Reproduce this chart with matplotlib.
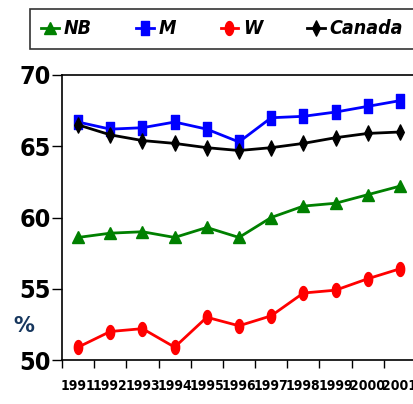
import numpy as np
import matplotlib
matplotlib.use('Agg')
import matplotlib.pyplot as plt
from matplotlib import font_manager
from matplotlib.path import Path
from matplotlib.ticker import FixedLocator, NullFormatter

# Participation rate (%) by year
years = ['1991', '1992', '1993', '1994', '1995', '1996',
         '1997', '1998', '1999', '2000', '2001']
nb     = [58.6, 58.9, 59.0, 58.6, 59.3, 58.6, 60.0, 60.8, 61.0, 61.6, 62.2]
men    = [66.7, 66.2, 66.3, 66.7, 66.2, 65.3, 67.0, 67.1, 67.4, 67.8, 68.2]
women  = [50.9, 52.0, 52.2, 50.9, 53.0, 52.4, 53.1, 54.7, 54.9, 55.7, 56.4]
canada = [66.5, 65.8, 65.4, 65.2, 64.9, 64.7, 64.9, 65.2, 65.6, 65.9, 66.0]

labels = ['NB', 'M', 'W', 'Canada']

# look for a condensed face if one is installed
condensed = [f for f in font_manager.fontManager.ttflist
             if ('Narrow' in f.name or 'Condensed' in f.name or f.stretch in ('condensed', 'semi-condensed', 600, 500))]
if any(f.name == 'Liberation Sans Narrow' for f in condensed):
    NARROW, STRETCH = 'Liberation Sans Narrow', 'normal'
elif any(f.name == 'DejaVu Sans' for f in condensed):
    NARROW, STRETCH = 'DejaVu Sans', 'condensed'
else:
    NARROW, STRETCH = 'Liberation Sans', 'normal'

# tall, narrow marker shapes
tall_rect = Path([(-0.62, -1), (0.62, -1), (0.62, 1), (-0.62, 1), (-0.62, -1)],
                 [Path.MOVETO, Path.LINETO, Path.LINETO, Path.LINETO, Path.CLOSEPOLY])
t = np.linspace(0, 2 * np.pi, 40)
tall_oval = Path(np.column_stack([0.6 * np.cos(t), np.sin(t)]))
thin_diamond = Path([(0, -1), (0.5, 0), (0, 1), (-0.5, 0), (0, -1)],
                    [Path.MOVETO, Path.LINETO, Path.LINETO, Path.LINETO, Path.CLOSEPOLY])

fig = plt.figure(figsize=(4.13, 4.04), dpi=100)
ax = fig.add_axes([62 / 413, 44 / 404, 354 / 413, 285 / 404])

x = np.arange(len(years))
lw = 2.0
ax.plot(x, nb, color='#008000', lw=lw, marker='^', ms=9, label=labels[0])
ax.plot(x, men, color='#0000FF', lw=lw, marker=tall_rect, ms=10, label=labels[1])
ax.plot(x, women, color='#FF0000', lw=lw, marker=tall_oval, ms=10, label=labels[2])
ax.plot(x, canada, color='black', lw=lw, marker=thin_diamond, ms=11, label=labels[3])

ax.set_xlim(-0.5, len(years) - 0.5)
ax.set_ylim(50, 70)
ax.set_yticks([50, 55, 60, 65, 70])
ax.set_yticklabels(['50', '55', '60', '65', '70'])

# ticks on category boundaries, labels at category centres
ax.xaxis.set_major_locator(FixedLocator(np.arange(-0.5, len(years), 1.0)))
ax.xaxis.set_major_formatter(NullFormatter())
ax.set_xticks(x, minor=True)
ax.set_xticklabels(years, minor=True)
ax.tick_params(axis='x', which='major', direction='out', length=6, width=1, colors='black')
ax.tick_params(axis='x', which='minor', length=0, pad=14)
ax.tick_params(axis='y', direction='out', length=7, width=1, pad=1)

for lab in ax.get_xticklabels(minor=True):
    lab.set_fontfamily(NARROW)
    lab.set_fontstretch(STRETCH)
    lab.set_fontweight('bold')
    lab.set_fontsize(10)
for lab in ax.get_yticklabels():
    lab.set_fontfamily(NARROW)
    lab.set_fontstretch(STRETCH)
    lab.set_fontweight('bold')
    lab.set_fontsize(18)

for side in ['left', 'bottom', 'top']:
    ax.spines[side].set_linewidth(1.2)
ax.spines['right'].set_visible(False)

fig.text(24 / 413, 1 - 326 / 404, '%', color='#17375E', fontsize=15,
         fontweight='bold', ha='center', va='center')

leg = fig.legend(loc='center', bbox_to_anchor=(222 / 413, 1 - 29 / 404), ncol=4,
                 frameon=True, fancybox=False, handlelength=0.9, handletextpad=0.25,
                 columnspacing=2.3, borderpad=0.55, borderaxespad=0,
                 prop={'family': NARROW, 'stretch': STRETCH, 'weight': 'bold',
                       'style': 'italic', 'size': 14})
leg.get_frame().set_edgecolor('black')
leg.get_frame().set_linewidth(1.2)

fig.savefig('out.png', dpi=100)
